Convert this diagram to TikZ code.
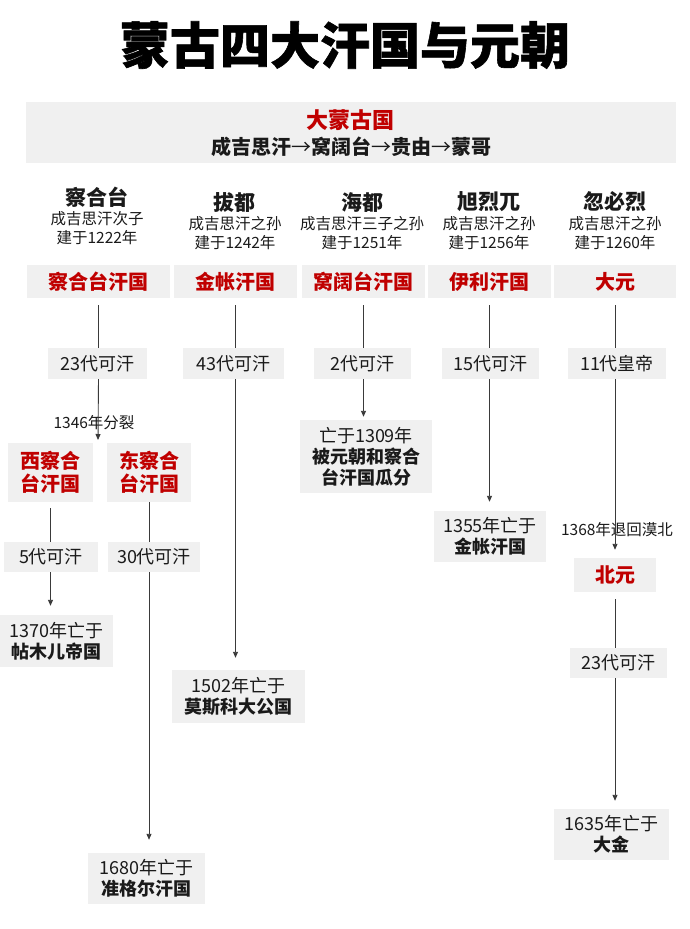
\documentclass[tikz,border=0pt]{standalone}
\usepackage{fontspec}
\setmainfont{Noto Sans CJK SC}
\newfontfamily\titlefont[BoldFeatures={FakeBold=1.2}]{Noto Sans CJK SC}
\usetikzlibrary{arrows.meta}
\definecolor{kred}{HTML}{C00000}
\definecolor{kgray}{HTML}{F0F0F0}
\definecolor{kline}{HTML}{3A3A3A}
\definecolor{ktext}{HTML}{1A1A1A}
\newcommand\myfs[2]{\fontsize{#1}{#2}\selectfont}
\newcommand\thinarrow{{\mdseries →}}
\begin{document}
\begin{tikzpicture}[x=1pt,y=-1pt,
  graybox/.style={fill=kgray, inner sep=0pt, align=center, text=ktext},
  khan/.style={graybox, font=\myfs{20}{23}\bfseries, text=kred},
  cnt/.style={graybox, font=\myfs{18}{21}},
  hname/.style={inner sep=0pt, font=\myfs{21}{24}\bfseries, text=ktext},
  hsub/.style={inner sep=0pt, align=center, font=\myfs{15.5}{19.5}, text=ktext},
  lab/.style={inner sep=0pt, font=\myfs{15.5}{18}, text=ktext},
  conn/.style={draw=kline, line width=0.9pt},
  arr/.style={conn, -{Triangle[width=5pt,length=6pt]}},
]
\useasboundingbox[fill=white] (0,0) rectangle (690,929);

% title
\node[inner sep=0pt, font=\titlefont\myfs{50}{56}\bfseries, text=black] (title) at (345,45) {蒙古四大汗国与元朝};

% banner
\node[fill=kgray, inner sep=0pt, minimum width=650pt, minimum height=61pt] (banner) at (351,132.5) {};
\node[inner sep=0pt, font=\myfs{22}{24}\bfseries, text=kred] (bt) at (350,120) {大蒙古国};
\node[inner sep=0pt, font=\myfs{20}{22}\bfseries, text=ktext] (bs) at (351,147) {成吉思汗\thinarrow 窝阔台\thinarrow 贵由\thinarrow 蒙哥};

% column headers
\node[hname] (n1) at (97,197) {察合台};
\node[hsub]  (s1) at (97,228) {成吉思汗次子\\建于1222年};
\node[hname] (n2) at (234,202) {拔都};
\node[hsub]  (s2) at (235,233) {成吉思汗之孙\\建于1242年};
\node[hname] (n3) at (362,202) {海都};
\node[hsub]  (s3) at (362,233) {成吉思汗三子之孙\\建于1251年};
\node[hname] (n4) at (489,202) {旭烈兀};
\node[hsub]  (s4) at (489,233) {成吉思汗之孙\\建于1256年};
\node[hname] (n5) at (615,202) {忽必烈};
\node[hsub]  (s5) at (615,233) {成吉思汗之孙\\建于1260年};

% khanates
\node[khan, minimum width=143pt, minimum height=33pt] (k1) at (98.5,281.5) {察合台汗国};
\node[khan, minimum width=123pt, minimum height=33pt] (k2) at (235.5,281.5) {金帐汗国};
\node[khan, minimum width=123pt, minimum height=33pt] (k3) at (363.5,281.5) {窝阔台汗国};
\node[khan, minimum width=123pt, minimum height=33pt] (k4) at (489.5,281.5) {伊利汗国};
\node[khan, minimum width=122pt, minimum height=33pt] (k5) at (615,281.5) {大元};

% counts
\node[cnt, minimum width=99pt, minimum height=31pt] (c1) at (97.5,363.5) {23代可汗};
\node[cnt, minimum width=101pt, minimum height=31pt] (c2) at (233.5,363.5) {43代可汗};
\node[cnt, minimum width=97pt, minimum height=31pt] (c3) at (362.5,363.5) {2代可汗};
\node[cnt, minimum width=97pt, minimum height=31pt] (c4) at (490.5,363.5) {15代可汗};
\node[cnt, minimum width=98pt, minimum height=31pt] (c5) at (617,363.5) {11代皇帝};

% Chagatai split
\coordinate (split) at (98,440);
\node[lab] (l1) at (94,423) {1346年分裂};
\node[khan, minimum width=85pt, minimum height=59pt] (w) at (50.5,472.5) {西察合\\台汗国};
\node[khan, minimum width=84pt, minimum height=59pt] (e) at (149,472.5) {东察合\\台汗国};
\node[cnt, minimum width=94pt, minimum height=30pt] (cw) at (51,557) {5代可汗};
\node[cnt, minimum width=92pt, minimum height=30pt] (ce) at (154,557) {30代可汗};
\node[cnt, minimum width=113pt, minimum height=52pt] (fw) at (56.5,641) {1370年亡于\\{\bfseries 帖木儿帝国}};
\node[cnt, minimum width=117pt, minimum height=51pt] (fe) at (146.5,878.5) {1680年亡于\\{\bfseries 准格尔汗国}};

% other ends
\node[cnt, minimum width=133pt, minimum height=53pt] (f2) at (238.5,696.5) {1502年亡于\\{\bfseries 莫斯科大公国}};
\node[cnt, minimum width=132pt, minimum height=73pt] (f3) at (366,456.5) {亡于1309年\\{\bfseries 被元朝和察合}\\{\bfseries 台汗国瓜分}};
\node[cnt, minimum width=112pt, minimum height=51pt] (f4) at (490,536.5) {1355年亡于\\{\bfseries 金帐汗国}};

% Yuan
\node[lab] (l2) at (617,530) {1368年退回漠北};
\node[khan, minimum width=82pt, minimum height=34pt] (by) at (615,575) {北元};
\node[cnt, minimum width=97pt, minimum height=30pt] (c6) at (618.5,663) {23代可汗};
\node[cnt, minimum width=115pt, minimum height=51pt] (f5) at (611.5,834.5) {1635年亡于\\{\bfseries 大金}};

% connectors: khanate -> count
\draw[conn] ([yshift=-7pt]k1.south) -- (k1.south |- c1.north);
\draw[conn] ([yshift=-7pt]k2.south) -- (k2.south |- c2.north);
\draw[conn] ([yshift=-7pt]k3.south) -- (k3.south |- c3.north);
\draw[conn] ([yshift=-7pt]k4.south) -- (k4.south |- c4.north);
\draw[conn] ([yshift=-7pt]k5.south) -- (k5.south |- c5.north);

% column 1
\draw[arr] (k1.south |- c1.south) -- (split);
\draw[conn] ([yshift=-6pt]w.south) -- (w.south |- cw.north);
\draw[arr, shorten >=9pt] (w.south |- cw.south) -- (w.south |- fw.north);
\draw[conn] (e.south) -- (e.south |- ce.north);
\draw[arr, shorten >=13pt] (e.south |- ce.south) -- (e.south |- fe.north);

% columns 2-4
\draw[arr, shorten >=12pt] (k2.south |- c2.south) -- (k2.south |- f2.north);
\draw[arr, shorten >=3pt] (k3.south |- c3.south) -- (k3.south |- f3.north);
\draw[arr, shorten >=9pt] (k4.south |- c4.south) -- (k4.south |- f4.north);

% column 5
\draw[arr, shorten >=8pt] (k5.south |- c5.south) -- (k5.south |- by.north);
\draw[conn] ([yshift=-7pt]by.south) -- (by.south |- c6.north);
\draw[arr, shorten >=8pt] (by.south |- c6.south) -- (by.south |- f5.north);
\end{tikzpicture}
\end{document}
